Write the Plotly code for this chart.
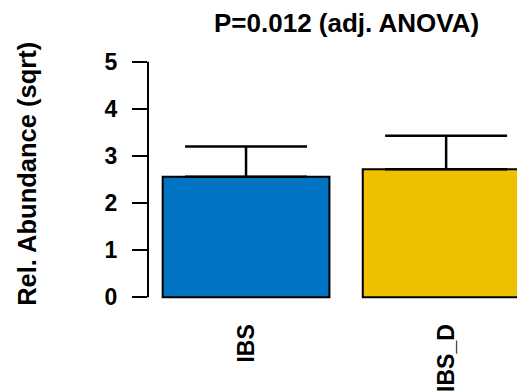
import plotly.graph_objects as go

# Group means (sqrt-transformed relative abundance) and upper error
groups = ["IBS", "IBS_D"]
positions = [0.7, 1.9]
means = [2.56, 2.72]
errors = [0.64, 0.71]
colors = ["#0073C2", "#EFC000"]

y_ticks = [0, 1, 2, 3, 4, 5]
title_text = "P=0.012 (adj. ANOVA)"
y_title = "Rel. Abundance (sqrt)"

FONT = "Liberation Sans, Arial, sans-serif"

fig = go.Figure()
fig.add_trace(go.Bar(
    x=positions,
    y=means,
    width=1.0,
    marker=dict(color=colors, line=dict(color="black", width=2)),
    error_y=dict(type="data", symmetric=False, array=errors,
                 arrayminus=[0] * len(errors),
                 color="black", thickness=2.5, width=61),
    showlegend=False,
))

# y axis line running only from 0 to 5
fig.add_shape(type="line", xref="paper", yref="y",
              x0=0, x1=0, y0=y_ticks[0], y1=y_ticks[-1],
              line=dict(color="black", width=2))

fig.add_annotation(text=title_text, xref="paper", yref="paper",
                   x=(346.7 - 148) / 369, y=1 + (57 - 23) / 245.4,
                   xanchor="center", yanchor="middle", showarrow=False,
                   font=dict(family=FONT, size=26, color="black", weight="bold"))

fig.add_annotation(text=y_title, xref="paper", yref="paper",
                   x=(27 - 148) / 369, y=(302.4 - 174) / 245.4,
                   xanchor="center", yanchor="middle", textangle=-90,
                   showarrow=False,
                   font=dict(family=FONT, size=25.5, color="black", weight="bold"))

fig.update_layout(
    width=517, height=391,
    margin=dict(l=148, r=0, t=57, b=88.6),
    paper_bgcolor="white", plot_bgcolor="white",
    xaxis=dict(range=[0.112, 2.325], tickvals=positions, ticktext=groups,
               tickangle=-90, ticks="outside", ticklen=12,
               tickcolor="rgba(0,0,0,0)", showline=False, showgrid=False,
               zeroline=False,
               tickfont=dict(family=FONT, size=23, color="black", weight="bold")),
    yaxis=dict(range=[-0.1, 5.1], tickvals=y_ticks, ticks="outside",
               ticklen=15, tickwidth=2, tickcolor="black", showline=False,
               showgrid=False, zeroline=False, ticklabelstandoff=10,
               tickfont=dict(family=FONT, size=23, color="black", weight="bold")),
)

fig.write_html("out.html")
